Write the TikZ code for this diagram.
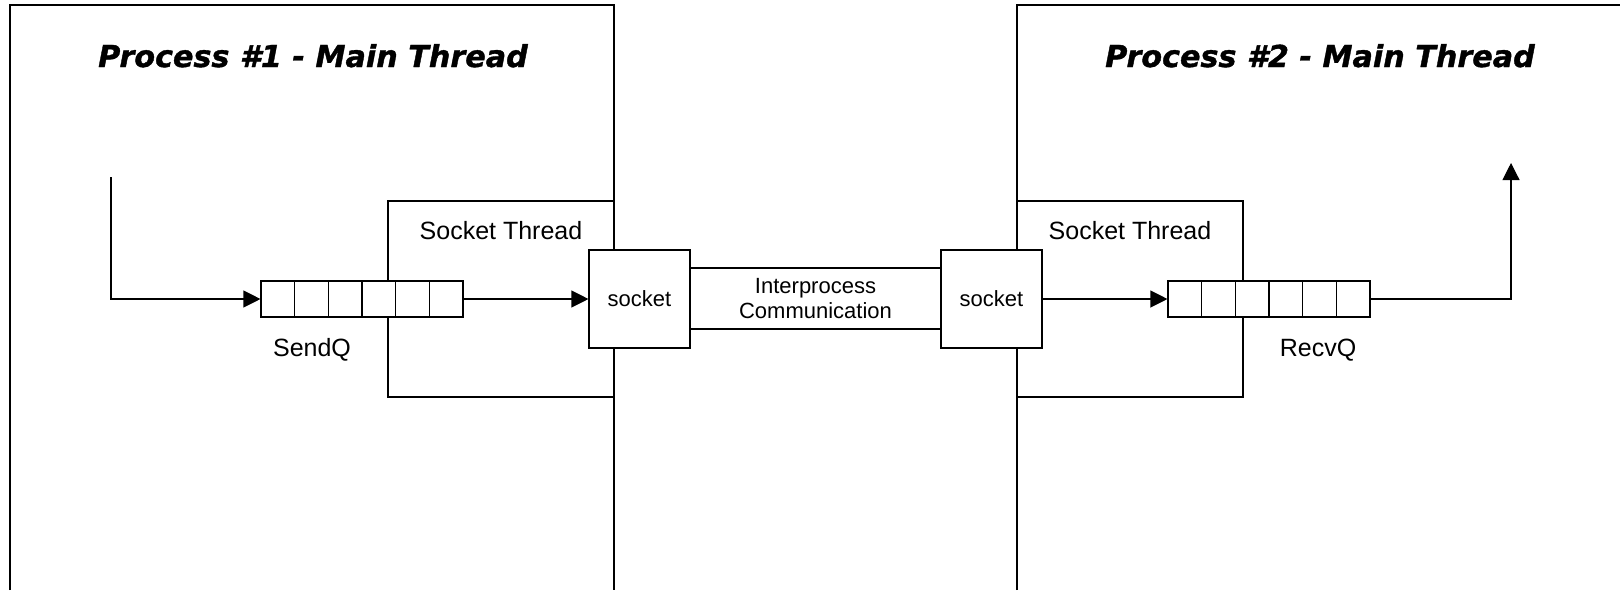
\documentclass[tikz,border=0pt]{standalone}
\usepackage{fontspec}
\setmainfont{Liberation Sans}
\newfontfamily\titlefont[BoldItalicFeatures={FakeBold=1.2}]{DejaVu Sans}
\usetikzlibrary{arrows.meta,calc}

\begin{document}
\begin{tikzpicture}[x=1pt,y=-1pt,line width=1.1pt,
  frame/.style={draw=black,line width=1.1pt},
  flow/.style={draw=black,line width=1.1pt,-{Triangle[length=17pt,width=17pt]}},
  queuebox/.style={draw=black,fill=white,minimum width=202pt,minimum height=36pt,inner sep=0pt,
    path picture={
      \foreach \k in {1,...,5}{
        \draw[line width=1.3pt]
          ($(path picture bounding box.south west)!\k/6!(path picture bounding box.south east)$) --
          ($(path picture bounding box.north west)!\k/6!(path picture bounding box.north east)$);
      }
    }},
  sockbox/.style={draw=black,fill=white,minimum width=101pt,minimum height=98pt,inner sep=0pt,
    font=\fontsize{22}{25}\selectfont},
  ipcbox/.style={draw=black,fill=white,minimum width=251pt,minimum height=61pt,inner sep=0pt,
    align=center,font=\fontsize{22}{25}\selectfont},
  titletext/.style={anchor=base,font=\titlefont\bfseries\itshape\fontsize{30.2}{34}\selectfont},
  labeltext/.style={anchor=base,font=\fontsize{25}{30}\selectfont}
]
\useasboundingbox (0,0) rectangle (1620,590);

% process frames (open at the bottom / right edge)
\draw[frame] (10,590) -- (10,5) -- (614,5) -- (614,590);
\draw[frame] (1017,590) -- (1017,5) -- (1620,5);

% socket thread regions
\draw[frame] (614,201) -- (388,201) -- (388,397) -- (614,397);
\draw[frame] (1017,201) -- (1243,201) -- (1243,397) -- (1017,397);

% titles and labels
\node[titletext] (title1) at (313,67) {Process \#1 - Main Thread};
\node[titletext] (title2) at (1320,67) {Process \#2 - Main Thread};
\node[labeltext] (st1) at (501,239) {Socket Thread};
\node[labeltext] (st2) at (1130,239) {Socket Thread};
\node[labeltext] (sendlbl) at (312,356) {SendQ};
\node[labeltext] (recvlbl) at (1318,356) {RecvQ};

% queues, sockets and the channel between them
\node[queuebox] (sendq) at (362,299) {};
\node[queuebox] (recvq) at (1269,299) {};
\node[sockbox] (sock1) at (639.5,299) {socket};
\node[sockbox] (sock2) at (991.5,299) {socket};
\node[ipcbox] (ipc) at (815.5,298.5) {Interprocess\\Communication};

% data flow
\coordinate (src) at (111,177);
\coordinate (dst) at (1511,163);
\draw[flow] (src) |- (sendq.west);
\draw[flow] (sendq.east) -- (sock1.west);
\draw[flow] (sock2.east) -- (recvq.west);
\draw[flow] (recvq.east) -| (dst);
\end{tikzpicture}
\end{document}
